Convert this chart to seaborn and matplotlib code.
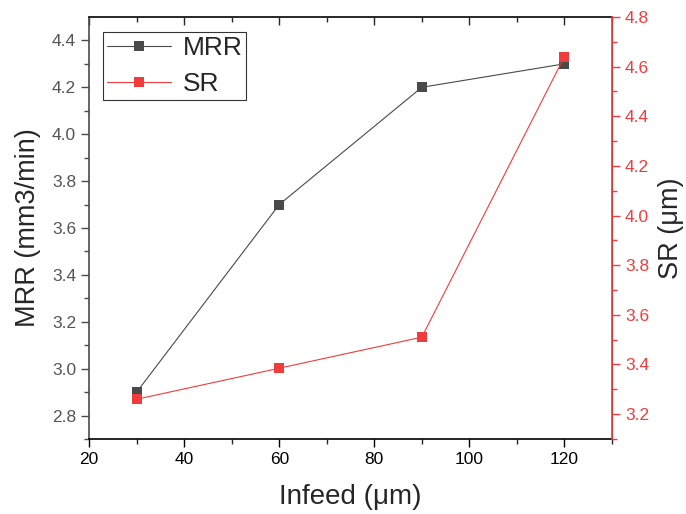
"""
MRR and SR against infeed, two y axes
"""
import numpy as np
import pandas as pd
import matplotlib
matplotlib.use('Agg')
import matplotlib.pyplot as plt
import seaborn as sns
from matplotlib.ticker import MultipleLocator, FormatStrFormatter

infeed = [30, 60, 90, 120]
mrr = [2.9, 3.7, 4.2, 4.3]
sr = [3.26, 3.385, 3.51, 4.64]

gray = '#4a4a4a'
red = '#f03c3c'

sns.set_style('ticks')
plt.rcParams['font.family'] = ['Liberation Sans', 'DejaVu Sans']

df = pd.DataFrame({'infeed': infeed, 'MRR': mrr, 'SR': sr})

fig = plt.figure(figsize=(6.86, 5.14), dpi=100)
ax = fig.add_axes([0.130, 0.146, 0.762, 0.821])
ax2 = ax.twinx()

sns.lineplot(data=df, x='infeed', y='MRR', ax=ax, color=gray, marker='s',
             markersize=6.5, markeredgewidth=0, linewidth=0.8, label='MRR', legend=False)
sns.lineplot(data=df, x='infeed', y='SR', ax=ax2, color=red, marker='s',
             markersize=6.5, markeredgewidth=0, linewidth=0.8, label='SR', legend=False)

ax.set_xlim(20, 130)
ax.set_ylim(2.7, 4.5)
ax2.set_ylim(3.1, 4.8)

ax.xaxis.set_major_locator(MultipleLocator(20))
ax.xaxis.set_minor_locator(MultipleLocator(10))
for a in (ax, ax2):
    a.yaxis.set_major_locator(MultipleLocator(0.2))
    a.yaxis.set_minor_locator(MultipleLocator(0.1))
    a.yaxis.set_major_formatter(FormatStrFormatter('%.1f'))
# origin style: no 4.5 minor tick at the very top of the left axis
ax.set_yticks([2.8, 3.0, 3.2, 3.4, 3.6, 3.8, 4.0, 4.2, 4.4])
ax.set_yticks([2.7, 2.9, 3.1, 3.3, 3.5, 3.7, 3.9, 4.1, 4.3], minor=True)

ax.tick_params(axis='x', which='major', direction='out', length=6, width=1, labelsize=12.5, colors='black')
ax.tick_params(axis='x', which='minor', direction='out', length=3.5, width=1)
ax.tick_params(axis='y', which='major', direction='out', length=6, width=1, labelsize=12.5,
               color=gray, labelcolor='#555555')
ax.tick_params(axis='y', which='minor', direction='out', length=3.5, width=1, color=gray)
ax2.tick_params(axis='y', which='major', direction='out', length=6, width=1, labelsize=12.5,
                color=red, labelcolor=red)
ax2.tick_params(axis='y', which='minor', direction='out', length=3.5, width=1, color=red)

# mirrored ticks on top, pointing inward
top = ax.secondary_xaxis('top')
top.xaxis.set_major_locator(MultipleLocator(20))
top.xaxis.set_minor_locator(MultipleLocator(10))
top.tick_params(which='major', direction='in', length=6, width=1, labeltop=False)
top.tick_params(which='minor', direction='in', length=3.5, width=1)
top.spines['top'].set_linewidth(1.2)

for s in ['left', 'bottom', 'top']:
    ax.spines[s].set_linewidth(1.2)
ax.spines['left'].set_color(gray)
ax.spines['bottom'].set_color('black')
ax2.spines['right'].set_color(red)
ax2.spines['right'].set_linewidth(1.2)
for s in ['left', 'top', 'bottom']:
    ax2.spines[s].set_visible(False)

ax.set_xlabel('Infeed (μm)', fontsize=20, labelpad=12)
ax.set_ylabel('MRR (mm3/min)', fontsize=19.5, labelpad=8)
ax2.set_ylabel('SR (μm)', fontsize=19.5, labelpad=6)

h1, l1 = ax.get_legend_handles_labels()
h2, l2 = ax2.get_legend_handles_labels()
leg = ax.legend(h1 + h2, l1 + l2, loc='upper left', bbox_to_anchor=(0.027, 0.964),
                borderaxespad=0, fontsize=19, frameon=True, fancybox=False, edgecolor='black',
                handlelength=2.4, handletextpad=0.45, borderpad=0.15, labelspacing=0.45)
leg.get_frame().set_linewidth(0.8)

fig.savefig('out.png', dpi=100)
